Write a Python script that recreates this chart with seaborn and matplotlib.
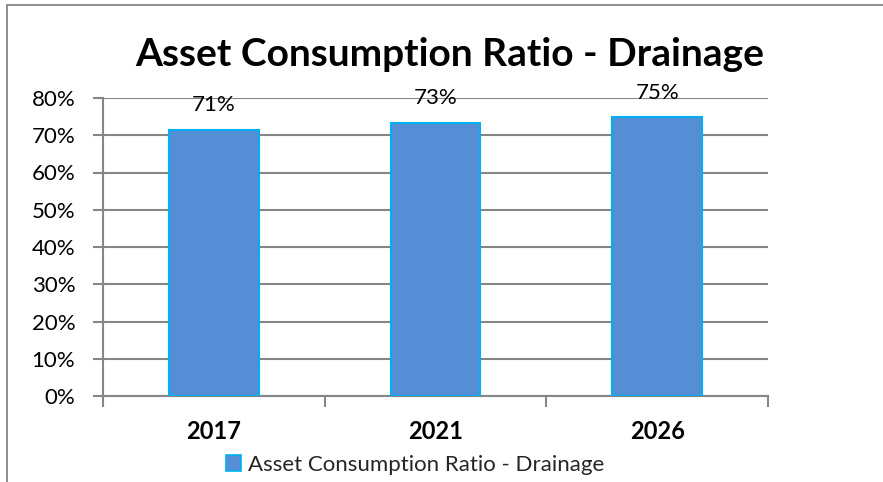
import matplotlib
matplotlib.use("Agg")
import matplotlib.pyplot as plt
import seaborn as sns
import pandas as pd
from matplotlib.patches import Rectangle, Patch
from matplotlib.ticker import PercentFormatter, FixedLocator

years = ["2017", "2021", "2026"]
ratios = [71.5, 73.4, 74.8]
labels = ["71%", "73%", "75%"]
series_name = "Asset Consumption Ratio - Drainage"
title = "Asset Consumption Ratio - Drainage"

sns.set_theme(style="white")
plt.rcParams["font.family"] = ["Lato", "DejaVu Sans"]

W, H = 883, 482
fig = plt.figure(figsize=(W / 100, H / 100), dpi=100)
fig.patch.set_facecolor("white")

# outer frame (top & left border visible)
fig.patches.append(Rectangle((7 / W, -0.1), 1.2, (1 - 5 / H) + 0.1, transform=fig.transFigure,
                             fill=False, edgecolor="#868686", linewidth=1.3))

ax = fig.add_axes([103 / W, (H - 396) / H, (768 - 103) / W, (396 - 98) / H])
df = pd.DataFrame({"year": years, "ratio": ratios})
sns.barplot(data=df, x="year", y="ratio", order=years, ax=ax, width=0.406,
            color="#558ED5", edgecolor="#00B0F0", linewidth=1.5, saturation=1, zorder=3)

for p, lab in zip(ax.patches, labels):
    ax.annotate(lab, (p.get_x() + p.get_width() / 2, p.get_height()),
                xytext=(0, 10.5), textcoords="offset points", ha="center", va="bottom",
                fontsize=16, color="black")

ax.set_ylim(0, 80)
ax.set_xlim(-0.5, 2.5)
ax.yaxis.set_major_locator(FixedLocator(range(0, 81, 10)))
ax.yaxis.set_major_formatter(PercentFormatter(decimals=0))
ax.yaxis.grid(True, color="#868686", linewidth=1.5, zorder=0)
ax.set_axisbelow(True)
for s in ["top", "right"]:
    ax.spines[s].set_visible(False)
for s in ["left", "bottom"]:
    ax.spines[s].set_color("#868686")
    ax.spines[s].set_linewidth(1.5)
ax.tick_params(axis="y", which="major", length=7, width=1.5, color="#868686",
               labelsize=16, labelcolor="black", pad=13, left=True)
ax.xaxis.set_minor_locator(FixedLocator([-0.5, 0.5, 1.5, 2.5]))
ax.tick_params(axis="x", which="minor", length=8, width=1.5, color="#868686", bottom=True)
ax.tick_params(axis="x", which="major", length=0, labelsize=17, labelcolor="black", pad=17)
for t in ax.get_xticklabels():
    t.set_fontweight("bold")
ax.set_xlabel("")
ax.set_ylabel("")

fig.text(450 / W, 1 - 55 / H, title, ha="center", va="center", fontsize=28,
         fontweight="bold", color="black")

handle = Patch(facecolor="#558ED5", edgecolor="#00B0F0", linewidth=1.2)
fig.legend([handle], [series_name], loc="center", bbox_to_anchor=(415 / W, 1 - 465 / H),
           frameon=False, fontsize=16, handlelength=0.7, handleheight=0.7, handletextpad=0.3)

fig.savefig("out.png", dpi=100)
